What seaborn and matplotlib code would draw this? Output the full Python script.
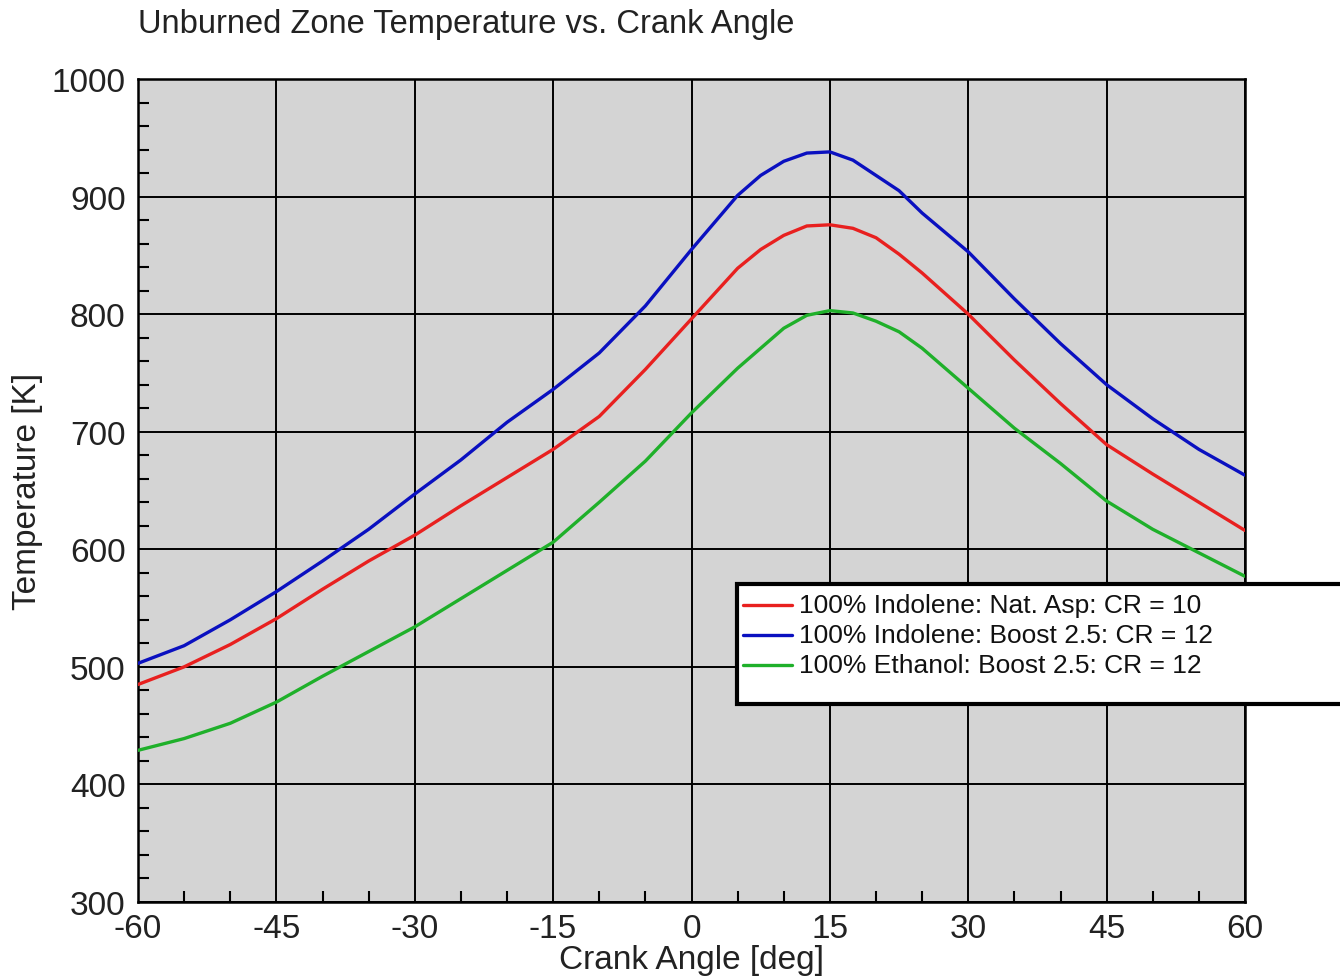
import matplotlib
matplotlib.use("Agg")
import matplotlib.pyplot as plt
from matplotlib.patches import Rectangle
from matplotlib.ticker import MultipleLocator
import seaborn as sns
import pandas as pd

# Werte
crank_angle = [-60, -55, -50, -45, -40, -35, -30, -25, -20, -15, -10, -5, 0,
               5, 7.5, 10, 12.5, 15, 17.5, 20, 22.5, 25, 30, 35, 40, 45, 50, 55, 60]
temp_indolene_na = [485, 500, 519, 541, 566, 590, 612, 637, 661, 685, 713, 753, 796,
                    839, 855, 867, 875, 876, 873, 865, 851, 835, 800, 761, 724, 689, 664, 640, 616]
temp_indolene_boost = [503, 518, 540, 564, 590, 617, 647, 676, 708, 736, 767, 807, 855,
                       901, 918, 930, 937, 938, 931, 918, 905, 886, 853, 813, 775, 740, 711, 685, 663]
temp_ethanol_boost = [429, 439, 452, 470, 492, 513, 534, 558, 582, 606, 640, 675, 716,
                      754, 771, 788, 799, 803, 801, 794, 785, 771, 737, 703, 673, 641, 617, 597, 577]

series_names = ["100% Indolene: Nat. Asp: CR = 10",
                "100% Indolene: Boost 2.5: CR = 12",
                "100% Ethanol: Boost 2.5: CR = 12"]
series_colors = ["#e8201f", "#0a10c0", "#1fb02a"]

df = pd.DataFrame({
    "angle": crank_angle * 3,
    "temp": temp_indolene_na + temp_indolene_boost + temp_ethanol_boost,
    "case": [series_names[0]] * len(crank_angle) + [series_names[1]] * len(crank_angle)
            + [series_names[2]] * len(crank_angle),
})

sns.set_theme(style="ticks")
plt.rcParams['font.family'] = ['Liberation Sans', 'DejaVu Sans']
plt.rcParams['axes.unicode_minus'] = False

fig = plt.figure(figsize=(13.4, 9.79), dpi=100)
ax = fig.add_axes([138 / 1340, 76 / 979, 1107 / 1340, 823 / 979])
ax.set_facecolor("#d4d4d4")

sns.lineplot(data=df, x="angle", y="temp", hue="case", hue_order=series_names,
             palette=dict(zip(series_names, series_colors)), linewidth=2.4,
             ax=ax, legend=False, zorder=3)

ax.set_xlim(-60, 60)
ax.set_ylim(300, 1000)
ax.xaxis.set_major_locator(MultipleLocator(15))
ax.xaxis.set_minor_locator(MultipleLocator(5))
ax.yaxis.set_major_locator(MultipleLocator(100))
ax.yaxis.set_minor_locator(MultipleLocator(20))
ax.grid(True, which="major", color="black", linewidth=1.4, zorder=1)
ax.tick_params(which="both", direction="in", labelsize=24, color="black", width=1.5,
               top=False, right=False, labelcolor="#222222")
ax.tick_params(which="major", length=0)
ax.tick_params(which="minor", length=8)
ax.tick_params(axis="x", pad=8)
ax.tick_params(axis="y", pad=9)
for s in ax.spines.values():
    s.set_color("black")
    s.set_linewidth(1.8)

ax.set_xlabel("Crank Angle [deg]", fontsize=24, labelpad=0, color="#222222")
ax.set_ylabel("Temperature [K]", fontsize=24, labelpad=6, color="#222222")
fig.text(138 / 1340, 1 - 24 / 979, "Unburned Zone Temperature vs. Crank Angle",
         fontsize=23.5, ha="left", va="center", color="#222222")

# Legendenkasten ragt rechts aus dem Bild heraus
box = Rectangle((737 / 1340, 1 - 705 / 979), 700 / 1340, 120 / 979,
                transform=fig.transFigure, facecolor="white", edgecolor="black",
                linewidth=3, zorder=10)
fig.add_artist(box)
for i, (name, col) in enumerate(zip(series_names, series_colors)):
    yy = 1 - (606 + 30 * i) / 979
    fig.add_artist(plt.Line2D([743 / 1340, 792 / 1340], [yy, yy], color=col,
                              linewidth=2.4, transform=fig.transFigure, zorder=11))
    fig.text(799 / 1340, yy, name, fontsize=19, ha="left", va="center",
             color="#111111", zorder=12)

fig.savefig("out.png", dpi=100)
